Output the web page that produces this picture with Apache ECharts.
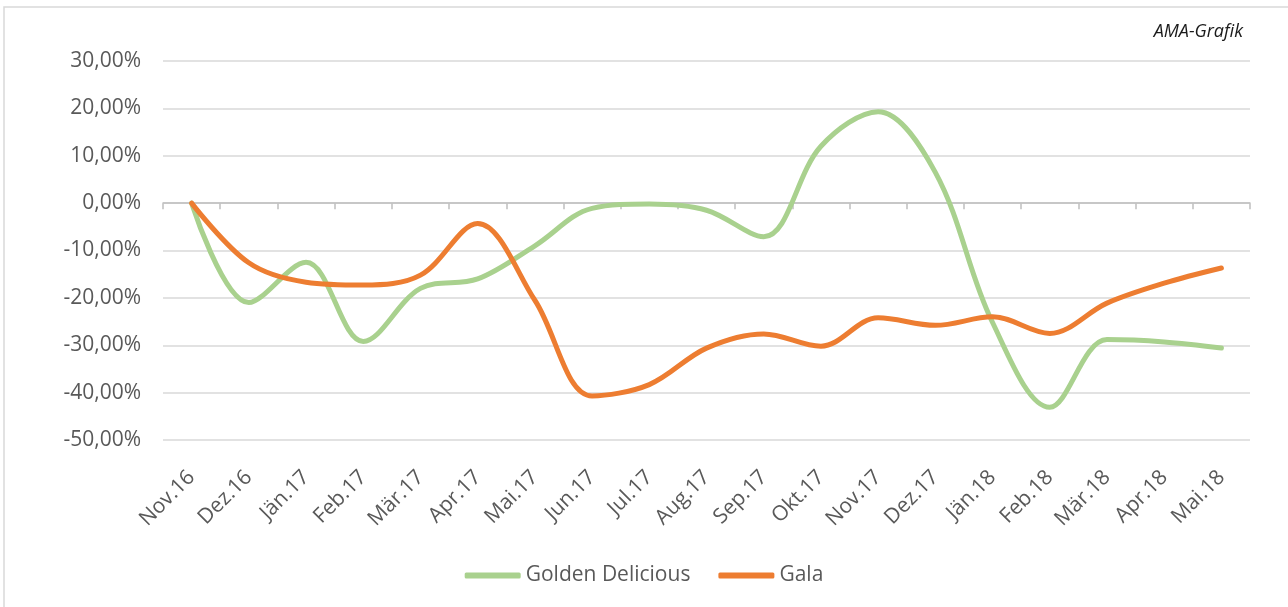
<!DOCTYPE html>
<html>
<head>
<meta charset="utf-8">
<script src="https://cdn.jsdelivr.net/npm/echarts@6/dist/echarts.min.js"></script>
<style>
html,body{margin:0;padding:0;background:#fff;}
#c{width:1288px;height:607px;}
</style>
</head>
<body>
<div id="c"></div>
<script>
const categories = ['Nov.16','Dez.16','Jän.17','Feb.17','Mär.17','Apr.17','Mai.17','Jun.17','Jul.17','Aug.17','Sep.17','Okt.17','Nov.17','Dez.17','Jän.18','Feb.18','Mär.18','Apr.18','Mai.18'];
const goldenDelicious = [0, -21.0, -12.5, -29.2, -18.0, -16.0, -9.0, -1.1, -0.2, -1.5, -7.1, 12.0, 19.3, 6.5, -25.2, -43.1, -28.8, -29.3, -30.6];
const gala = [0, -12.6, -16.7, -17.3, -15.2, -4.3, -20.5, -40.7, -38.3, -30.6, -27.6, -30.2, -24.2, -25.8, -24.0, -27.5, -21.1, -16.9, -13.7];
const yTicks = {min: -50, max: 30, interval: 10};
const seriesNames = ['Golden Delicious', 'Gala'];
const sourceNote = 'AMA-Grafik';

const chart = echarts.init(document.getElementById('c'));
const fmt = v => v.toFixed(2).replace('.', ',') + '%';
chart.setOption({
  animation: false,
  backgroundColor: '#fff',
  textStyle: {fontFamily: 'Open Sans'},
  grid: {left: 163, right: 38, top: 61, bottom: 167},
  graphic: [
    {type: 'rect', shape: {x: 4, y: 7, width: 1300, height: 700}, style: {fill: 'none', stroke: '#D9D9D9', lineWidth: 1.5}, silent: true},
    {type: 'text', right: 45, top: 23, style: {text: sourceNote, font: 'italic 18px "Open Sans"', fill: '#1a1a1a'}}
  ],
  legend: {
    data: seriesNames.map(n => ({name: n, icon: 'roundRect'})),
    top: 560, left: 'center',
    itemWidth: 56, itemHeight: 6, itemGap: 28,
    textStyle: {color: '#595959', fontSize: 21, fontFamily: 'Open Sans'}
  },
  xAxis: [
    {type: 'category', data: categories, position: 'bottom',
     axisLine: {onZero: true, lineStyle: {color: '#BFBFBF', width: 1.5}},
     axisTick: {show: true, length: 6, lineStyle: {color: '#BFBFBF', width: 1.5}},
     axisLabel: {show: false}, splitLine: {show: false}},
    {type: 'category', data: categories, position: 'bottom',
     axisLine: {show: false, onZero: false}, axisTick: {show: false},
     axisLabel: {show: true, rotate: 45, margin: 34, color: '#595959', fontSize: 21, fontFamily: 'Open Sans', interval: 0},
     splitLine: {show: false}}
  ],
  yAxis: {
    type: 'value', min: yTicks.min, max: yTicks.max, interval: yTicks.interval,
    axisLine: {show: false}, axisTick: {show: false},
    axisLabel: {formatter: fmt, color: '#595959', fontSize: 21, margin: 22, fontFamily: 'Open Sans'},
    splitLine: {lineStyle: {color: '#D9D9D9', width: 1.5}}
  },
  series: [
    {name: seriesNames[0], type: 'line', xAxisIndex: 0, data: goldenDelicious, smooth: 0.35, showSymbol: false,
     lineStyle: {color: '#A9D18E', width: 5, cap: 'round'}, itemStyle: {color: '#A9D18E'}, z: 3},
    {name: seriesNames[1], type: 'line', xAxisIndex: 0, data: gala, smooth: 0.35, showSymbol: false,
     lineStyle: {color: '#ED7D31', width: 5, cap: 'round'}, itemStyle: {color: '#ED7D31'}, z: 4}
  ]
});
</script>
</body>
</html>
